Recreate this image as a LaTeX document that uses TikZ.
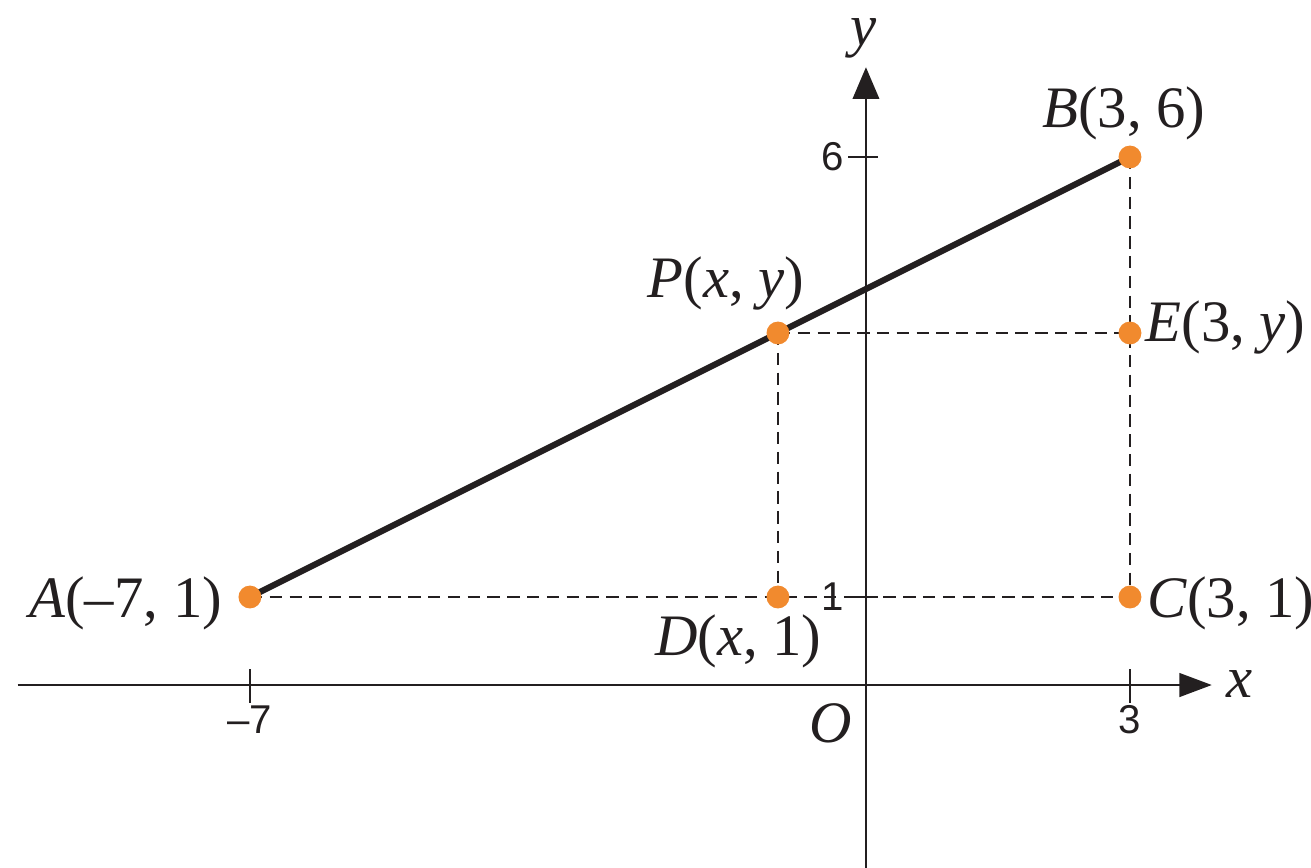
\documentclass[tikz,border=0pt]{standalone}
\usepackage{fontspec}
\setmainfont{Liberation Serif}
\newfontfamily\ticksans{Liberation Sans}
\usetikzlibrary{arrows.meta,calc,backgrounds}
\definecolor{dotorange}{RGB}{241,138,46}
\definecolor{ink}{RGB}{35,31,32}
\begin{document}
\begin{tikzpicture}[x=1cm,y=1cm,
  axis/.style={line width=0.75pt, draw=ink},
  guide/.style={line width=0.7pt, draw=ink, dash pattern=on 4pt off 2.4pt},
  seg/.style={line width=2pt, draw=ink},
  pt/.style={circle, fill=dotorange, inner sep=0pt, minimum size=0.26cm},
  lab/.style={font=\fontsize{19}{22}\selectfont, text=ink, inner sep=0pt},
  ticklab/.style={font=\ticksans\fontsize{13}{15}\selectfont, text=ink, inner sep=0pt},
  tickmark/.style={line width=0.75pt, draw=ink}]
\useasboundingbox (-9.84,-2.068) rectangle (5.057,7.784);
% axes
\coordinate (xs) at (-9.64,0);
\coordinate (xe) at (3.93,0);
\coordinate (ys) at (0,-2.1);
\coordinate (ye) at (0,7.02);
\draw[axis, -{Triangle[length=0.37cm,width=0.27cm]}] (xs) -- (xe);
\draw[axis, -{Triangle[length=0.36cm,width=0.30cm]}] (ys) -- (ye);
% ticks
\draw[tickmark] (-7,0.18) -- (-7,-0.2);
\draw[tickmark] (3,0.18) -- (3,-0.2);
\draw[tickmark] (-0.2,6) -- (0.14,6);
\draw[tickmark] (-0.2,1) -- (0.14,1);
% points
\node[pt] (A) at (-7,1) {};
\node[pt] (B) at (3,6) {};
\node[pt] (C) at (3,1) {};
\node[pt] (D) at (-1,1) {};
\node[pt] (E) at (3,4) {};
\node[pt] (P) at (-1,4) {};
% guides and segment behind the dots
\begin{scope}[on background layer]
\draw[guide] (A.center) -- (C.center);
\draw[guide] (P.center) -- (E.center);
\draw[guide] (P.center) -- (D.center);
\draw[guide] (B.center) -- (C.center);
\draw[seg] (A.center) -- (B.center);
\end{scope}
% labels
\node[lab, anchor=base east] (Alab) at (-7.31,0.77) {\textit{A}(–7, 1)};
\node[lab, anchor=base] (Dlab) at (-1.45,0.33) {\textit{D}(\textit{x}, 1)};
\node[lab, anchor=base west] (Clab) at (3.19,0.77) {\textit{C}(3, 1)};
\node[lab, anchor=base west] (Elab) at (3.17,3.90) {\textit{E}(3, \textit{y})};
\node[lab, anchor=base] (Plab) at (-1.59,4.40) {\textit{P}(\textit{x}, \textit{y})};
\node[lab, anchor=base] (Blab) at (2.93,6.34) {\textit{B}(3, 6)};
\node[lab, anchor=base] (xlab) at (4.24,-0.14) {\textit{x}};
\node[lab, anchor=base] (ylab) at (-0.03,7.27) {\textit{y}};
\node[lab, anchor=base] (Olab) at (-0.40,-0.65) {\textit{O}};
% tick labels
\node[ticklab] (t6) at (-0.38,6) {6};
\node[ticklab] (t1) at (-0.38,1) {1};
\node[ticklab] (tm7) at (-7,-0.39) {–7};
\node[ticklab] (t3) at (3,-0.39) {3};
\end{tikzpicture}
\end{document}
